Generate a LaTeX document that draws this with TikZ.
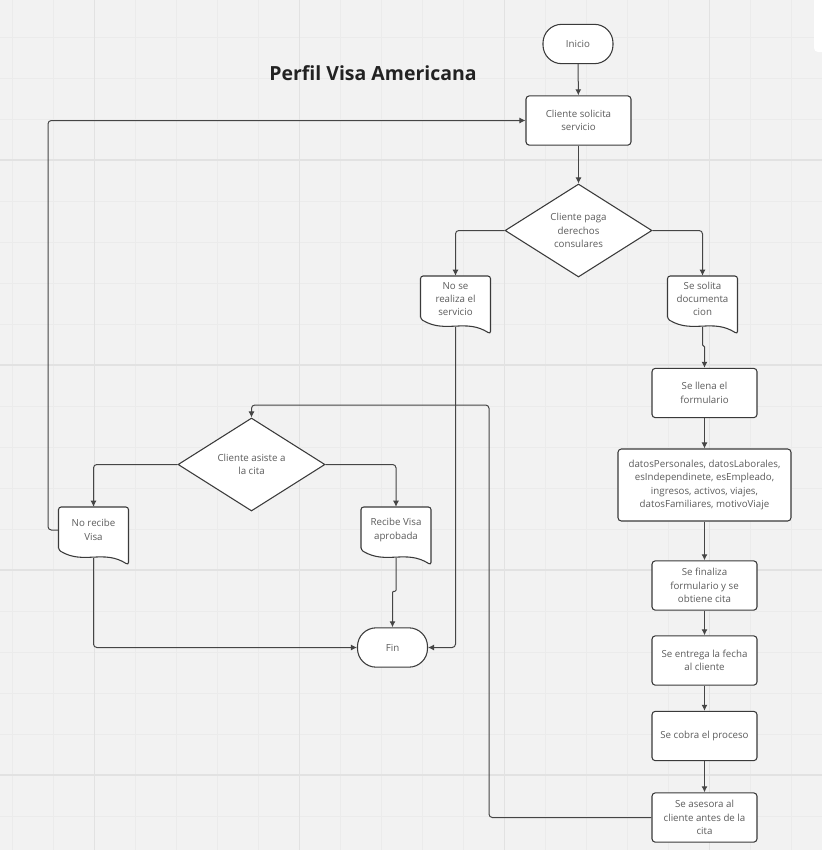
\documentclass[tikz,border=0pt]{standalone}
\usepackage{fontspec}
\setmainfont{Open Sans}
\usetikzlibrary{shapes.geometric,arrows.meta,calc}
\definecolor{bgc}{HTML}{F2F2F2}
\definecolor{gminor}{HTML}{EBEBEB}
\definecolor{gmajor}{HTML}{E2E2E2}
\definecolor{linec}{HTML}{454545}
\definecolor{borderc}{HTML}{3A3A3A}
\definecolor{txtc}{HTML}{5C5C5C}
\definecolor{titlec}{HTML}{222222}
\newcommand\docshape[3]{%
  \path[docline] ($#2+(-35,20)$) -- ($#2+(-35,-23)$) -- ($#2+(35,-23)$) -- ($#2+(35,35)$)
    .. controls ($#2+(10,19)$) and ($#2+(-10,35)$) .. ($#2+(-35,20)$) -- cycle;
  \node[docnode] (#1) at #2 {#3};}
\begin{document}
\begin{tikzpicture}[x=0.75pt,y=-0.75pt,
  base/.style={font=\fontsize{7.3}{10}\selectfont, text=txtc, align=center, inner sep=0pt},
  proc/.style={base, draw=borderc, fill=white, line width=0.8pt, rounded corners=2.5pt,
    minimum width=78.75pt, minimum height=37pt},
  term/.style={base, draw=borderc, fill=white, line width=0.8pt, rounded corners=14pt,
    minimum width=52.5pt, minimum height=29.5pt},
  decision/.style={base, diamond, draw=borderc, fill=white, line width=0.8pt,
    minimum width=110.25pt, minimum height=69.75pt},
  docnode/.style={base, minimum width=52.5pt, minimum height=34.5pt},
  docline/.style={draw=borderc, fill=white, line width=0.8pt, rounded corners=2pt},
  conn/.style={draw=linec, line width=0.75pt, rounded corners=2.5pt,
    -{Latex[length=4.5pt,width=4.5pt]}}
]
\useasboundingbox (0,0) rectangle (822,850);
\fill[bgc] (0,0) rectangle (822,850);
% grid
\foreach \i in {0,...,20} {
  \draw[gminor, line width=0.75pt] (12.3+41*\i,0) -- (12.3+41*\i,850);
  \draw[gminor, line width=0.75pt] (0,37+41*\i) -- (822,37+41*\i);
}
\foreach \i in {0,...,3} {
  \draw[gmajor, line width=1pt] (94.3+205*\i,0) -- (94.3+205*\i,850);
  \draw[gmajor, line width=1pt] (0,160+205*\i) -- (822,160+205*\i);
}
\fill[white, rounded corners=3pt] (814,-10) rectangle (832,52);

% title
\node[font=\bfseries\fontsize{14.6}{16}\selectfont, text=titlec] (title) at (373,73) {Perfil Visa Americana};

% main column
\node[term] (inicio) at (578,44) {Inicio};
\node[proc] (solicita) at (578.5,120.5) {Cliente solicita\\servicio};
\node[decision] (d1) at (578.5,230.5) {Cliente paga\\derechos\\consulares};
\docshape{noserv}{(455.5,299)}{No se\\realiza el\\servicio}
\docshape{solita}{(702.5,299)}{Se solita\\documenta\\cion}

% right column
\node[proc] (llena) at (704.5,393) {Se llena el\\formulario};
\node[proc, minimum width=129.75pt, minimum height=54pt] (datos) at (704.5,485)
  {datosPersonales, datosLaborales,\\esIndependinete, esEmpleado,\\ingresos, activos, viajes,\\datosFamiliares, motivoViaje};
\node[proc] (finaliza) at (704.5,585.5) {Se finaliza\\formulario y se\\obtiene cita};
\node[proc] (entrega) at (704.5,660.5) {Se entrega la fecha\\al cliente};
\node[proc] (cobra) at (704.5,736) {Se cobra el proceso};
\node[proc] (asesora) at (704.5,817.5) {Se asesora al\\cliente antes de la\\cita};

% left part
\node[decision] (d2) at (251.5,464.5) {Cliente asiste a\\la cita};
\docshape{norecibe}{(93.5,530)}{No recibe\\Visa}
\docshape{recibe}{(396,530)}{Recibe Visa\\aprobada}
\node[term] (fin) at (392.5,647.5) {Fin};

\coordinate (ret) at (489,405);
\coordinate (lret) at (48,530);

% connectors
\draw[conn] (inicio) -- (solicita);
\draw[conn] (solicita) -- (d1);
\draw[conn] (d1.west) -| (noserv.north);
\draw[conn] (d1.east) -| (solita.north);
\draw[conn, rounded corners=0.8pt] ($(solita.center)+(0,28)$) |- ($(llena.north)+(0,-22)$) -- (llena.north);
\draw[conn] (llena) -- (datos);
\draw[conn] (datos) -- (finaliza);
\draw[conn] (finaliza) -- (entrega);
\draw[conn] (entrega) -- (cobra);
\draw[conn] (cobra) -- (asesora);
\draw[conn] (asesora.west) -| (ret) -| (d2.north);
\draw[conn] ($(noserv.center)+(0,28)$) |- (fin.east);
\draw[conn] (d2.west) -| (norecibe.north);
\draw[conn] (d2.east) -| (recibe.north);
\draw[conn] ($(norecibe.center)+(0,28)$) |- (fin.west);
\draw[conn, rounded corners=0.8pt] ($(recibe.center)+(0,28)$) |- ($(fin.north)+(0,-36)$) -- (fin.north);
\draw[conn] (norecibe.west) -- (lret) |- (solicita.west);
\end{tikzpicture}
\end{document}
